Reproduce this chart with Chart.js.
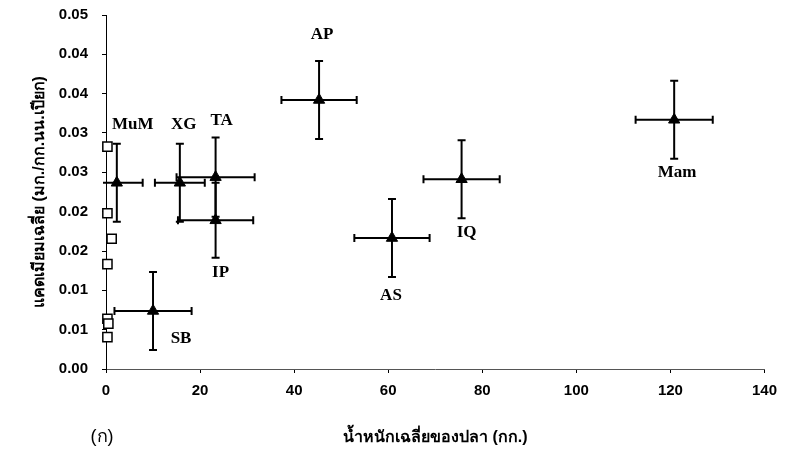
<!DOCTYPE html>
<html lang="th">
<head>
<meta charset="UTF-8">
<title>แคดเมียมในปลา</title>
<script src="https://cdn.jsdelivr.net/npm/chart.js"></script>
<style>
  body { margin: 0; background: #fff; }
  #wrap { width: 786px; height: 460px; }
</style>
</head>
<body>
<div id="wrap"><canvas id="grafico" width="786" height="460"></canvas></div>
<script>
// ปลาแต่ละชนิด: ค่าเฉลี่ย +/- ค่าเบี่ยงเบน
const fishNames = ['MuM', 'XG', 'TA', 'IP', 'SB', 'AP', 'AS', 'IQ', 'Mam'];
const fishWeight = [2.3, 15.7, 23.3, 23.3, 10, 45.3, 60.8, 75.6, 120.8];
const fishWeightErr = [5.5, 5.3, 8.3, 8, 8.2, 8, 8, 8.1, 8.2];
const fishCd = [0.0263, 0.0263, 0.0271, 0.0210, 0.0082, 0.0380, 0.0185, 0.0268, 0.0352];
const fishCdErr = [0.0055, 0.0055, 0.0056, 0.0053, 0.0055, 0.0055, 0.0055, 0.0055, 0.0055];

// ปลาตัวเล็ก (สี่เหลี่ยมโปร่ง)
const smallWeight = [0.3, 0.3, 1.2, 0.3, 0.3, 0.5, 0.3];
const smallCd = [0.0314, 0.0220, 0.0184, 0.0148, 0.0071, 0.0064, 0.0045];

// แกน
const xTicks = [0, 20, 40, 60, 80, 100, 120, 140];
const yMax = 0.05;
const yTickLabels = ['0.00', '0.01', '0.01', '0.02', '0.02', '0.03', '0.03', '0.04', '0.04', '0.05'];

// ตำแหน่งชื่อปลา เทียบกับจุด (px)
const labelOffset = {
  MuM: [16, -58], XG: [4, -58], TA: [6, -57], IP: [5, 52], SB: [28, 28],
  AP: [3, -65], AS: [-1, 58], IQ: [5, 53], Mam: [3, 53]
};

const errorBars = {
  id: 'errorBars',
  beforeDatasetsDraw(chart) {
    const { ctx, chartArea: a, scales: { x, y } } = chart;
    ctx.save();
    ctx.beginPath();
    ctx.rect(a.left - 3, a.top, a.right - a.left + 3, a.bottom - a.top);
    ctx.clip();
    ctx.strokeStyle = '#000';
    ctx.lineWidth = 2;
    const cap = 4;
    fishNames.forEach(function (n, i) {
      const px = x.getPixelForValue(fishWeight[i]);
      const py = y.getPixelForValue(fishCd[i]);
      const x0 = x.getPixelForValue(fishWeight[i] - fishWeightErr[i]);
      const x1 = x.getPixelForValue(fishWeight[i] + fishWeightErr[i]);
      const y0 = y.getPixelForValue(fishCd[i] - fishCdErr[i]);
      const y1 = y.getPixelForValue(fishCd[i] + fishCdErr[i]);
      ctx.beginPath();
      ctx.moveTo(x0, py); ctx.lineTo(x1, py);
      ctx.moveTo(x0, py - cap); ctx.lineTo(x0, py + cap);
      ctx.moveTo(x1, py - cap); ctx.lineTo(x1, py + cap);
      ctx.moveTo(px, y0); ctx.lineTo(px, y1);
      ctx.moveTo(px - cap, y0); ctx.lineTo(px + cap, y0);
      ctx.moveTo(px - cap, y1); ctx.lineTo(px + cap, y1);
      ctx.stroke();
    });
    ctx.restore();
  }
};

const extraText = {
  id: 'extraText',
  afterDatasetsDraw(chart) {
    const { ctx, chartArea: a, scales: { x, y } } = chart;
    ctx.save();
    ctx.fillStyle = '#000';
    ctx.textAlign = 'center';
    ctx.textBaseline = 'middle';
    ctx.font = 'bold 17px "Liberation Serif", serif';
    fishNames.forEach(function (n, i) {
      const o = labelOffset[n];
      ctx.fillText(n, x.getPixelForValue(fishWeight[i]) + o[0], y.getPixelForValue(fishCd[i]) + o[1]);
    });
    ctx.font = '18px "Liberation Sans", sans-serif';
    ctx.fillText('(ก)', a.left - 4, a.bottom + 68);
    ctx.restore();
  }
};

const config = {
  type: 'scatter',
  data: {
    datasets: [
      {
        label: 'ปลา',
        data: fishNames.map((n, i) => ({ x: fishWeight[i], y: fishCd[i] })),
        pointStyle: 'triangle',
        pointRadius: 6.5,
        pointHoverRadius: 6.5,
        backgroundColor: '#000',
        borderColor: '#000',
        borderWidth: 1
      },
      {
        label: 'ปลาเล็ก',
        data: smallWeight.map((w, i) => ({ x: w, y: smallCd[i] })),
        pointStyle: 'rect',
        pointRadius: 6.5,
        pointHoverRadius: 6.5,
        backgroundColor: '#fff',
        borderColor: '#000',
        borderWidth: 1.5,
        clip: false
      }
    ]
  },
  options: {
    responsive: false,
    animation: false,
    layout: { padding: { left: 6, right: 19, top: 15, bottom: 0 } },
    plugins: { legend: { display: false }, tooltip: { enabled: false } },
    scales: {
      x: {
        type: 'linear',
        min: 0,
        max: 140,
        afterBuildTicks: function (s) { s.ticks = xTicks.map(v => ({ value: v })); },
        afterFit: function (s) { s.height = 91; },
        ticks: { color: '#000', font: { family: '"Liberation Sans", sans-serif', size: 15, weight: 'bold' }, padding: 9 },
        grid: { drawOnChartArea: false, tickLength: 4, color: '#000' },
        border: { color: '#555', width: 1, dash: [7, 3] },
        title: {
          display: true,
          text: 'น้ำหนักเฉลี่ยของปลา (กก.)',
          color: '#000',
          font: { family: '"Liberation Sans", sans-serif', size: 16, weight: 'bold' },
          padding: { top: 4, bottom: 13 }
        }
      },
      y: {
        type: 'linear',
        min: 0,
        max: yMax,
        afterBuildTicks: function (s) { s.ticks = yTickLabels.map((l, i) => ({ value: i * yMax / 9 })); },
        afterFit: function (s) { s.width = 100; s.paddingTop = 0; s.paddingBottom = 0; },
        ticks: {
          color: '#000',
          font: { family: '"Liberation Sans", sans-serif', size: 15, weight: 'bold' },
          padding: 14,
          callback: function (v, i) { return yTickLabels[i]; }
        },
        grid: { drawOnChartArea: false, tickLength: 4, color: '#000' },
        border: { color: '#000', width: 1 },
        title: {
          display: true,
          text: 'แคดเมียมเฉลี่ย (มก./กก.นน.เปียก)',
          color: '#000',
          font: { family: '"Liberation Sans", sans-serif', size: 16, weight: 'bold' },
          padding: { top: 24, bottom: 0 }
        }
      }
    }
  },
  plugins: [errorBars, extraText]
};

const grafico = new Chart(document.getElementById('grafico'), config);
</script>
</body>
</html>
